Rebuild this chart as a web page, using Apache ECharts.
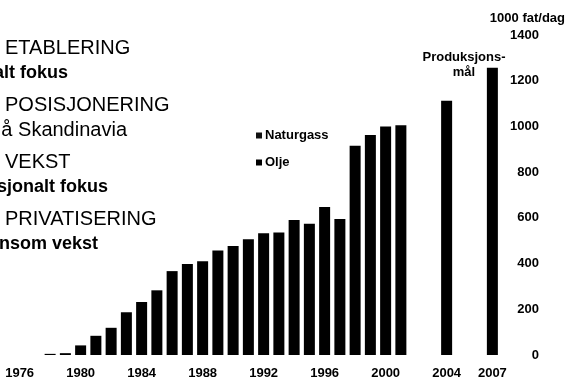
<!DOCTYPE html>
<html>
<head>
<meta charset="utf-8">
<script src="https://cdn.jsdelivr.net/npm/echarts@6/dist/echarts.min.js"></script>
<style>
  html, body { margin: 0; padding: 0; background: #fff; }
  #chart { width: 567px; height: 380px; }
</style>
</head>
<body>
<div id="chart"></div>
<script>
// år 1976-2007, tomme år uten søyle
const years = ['1976', '1977', '1978', '1979', '1980', '1981', '1982', '1983', '1984', '1985',
  '1986', '1987', '1988', '1989', '1990', '1991', '1992', '1993', '1994', '1995',
  '1996', '1997', '1998', '1999', '2000', '2001', '2002', '2003', '2004', '2005', '2006', '2007'];
const oilValues = [null, null, 5, 8, 42, 84, 119, 187, 232, 283,
  367, 398, 410, 457, 477, 506, 533, 536, 591, 574,
  648, 595, 916, 963, 1000, 1005, null, null, 1112, null, null, 1257];
const gasValues = [];
const shownYears = ['1976', '1980', '1984', '1988', '1992', '1996', '2000', '2004', '2007'];
const yTicks = [0, 200, 400, 600, 800, 1000, 1200, 1400];

const phaseTitles = ['ETABLERING', 'POSISJONERING', 'VEKST', 'PRIVATISERING'];
const phaseSubs = ['alt fokus', 'å Skandinavia', 'sjonalt fokus', 'nsom vekst'];

const fontFam = '"Liberation Sans", Arial, sans-serif';

// undertekstene er kuttet i venstre kant, så de høyrejusteres mot der de slutter
const subEnds = [68, 127, 108, 98];
const subBold = [true, false, true, true];

const phaseText = [];
phaseTitles.forEach((t, i) => {
  phaseText.push({
    type: 'text', x: 5, y: 48 + i * 57,
    style: { text: t, font: '20px ' + fontFam, fill: '#000', verticalAlign: 'middle' }
  });
  phaseText.push({
    type: 'text', x: subEnds[i], y: 73 + i * 57,
    style: {
      text: phaseSubs[i],
      font: (subBold[i] ? 'bold 18px ' : '20px ') + fontFam,
      fill: '#000', align: 'right', verticalAlign: 'middle'
    }
  });
});

const chart = echarts.init(document.getElementById('chart'));
chart.setOption({
  animation: false,
  textStyle: { fontFamily: fontFam },
  grid: { left: 12, top: 35, width: 488, height: 321 },
  legend: {
    orient: 'vertical', left: 256, top: 129, itemGap: 14, padding: 0,
    icon: 'rect', itemWidth: 6, itemHeight: 6,
    textStyle: { fontSize: 13, fontWeight: 'bold', color: '#000', padding: [0, 0, 0, -2] },
    data: ['Naturgass', 'Olje']
  },
  xAxis: {
    type: 'category',
    data: years,
    axisLine: { show: false },
    axisTick: { show: false },
    axisLabel: {
      interval: (idx, val) => shownYears.includes(val),
      fontSize: 13, fontWeight: 'bold', color: '#000', margin: 12
    }
  },
  yAxis: {
    type: 'value',
    position: 'right',
    min: 0, max: 1400, interval: 200,
    axisLine: { show: false },
    axisTick: { show: false },
    splitLine: { show: false },
    axisLabel: {
      fontSize: 13, fontWeight: 'bold', color: '#000', margin: 39, align: 'right',
      formatter: v => (yTicks.includes(v) ? String(v) : '')
    }
  },
  series: [
    {
      name: 'Olje', type: 'bar', stack: 'prod', barWidth: 11,
      itemStyle: { color: '#000' }, data: oilValues
    },
    {
      name: 'Naturgass', type: 'bar', stack: 'prod', barWidth: 11,
      itemStyle: { color: '#111' }, data: gasValues
    }
  ],
  graphic: phaseText.concat([
    {
      type: 'text', x: 565, y: 18,
      style: { text: '1000 fat/dag', font: 'bold 13px ' + fontFam, fill: '#000', align: 'right', verticalAlign: 'middle' }
    },
    {
      type: 'text', x: 464, y: 57,
      style: { text: 'Produksjons-', font: 'bold 13px ' + fontFam, fill: '#000', align: 'center', verticalAlign: 'middle' }
    },
    {
      type: 'text', x: 464, y: 72,
      style: { text: 'mål', font: 'bold 13px ' + fontFam, fill: '#000', align: 'center', verticalAlign: 'middle' }
    }
  ])
});
</script>
</body>
</html>
